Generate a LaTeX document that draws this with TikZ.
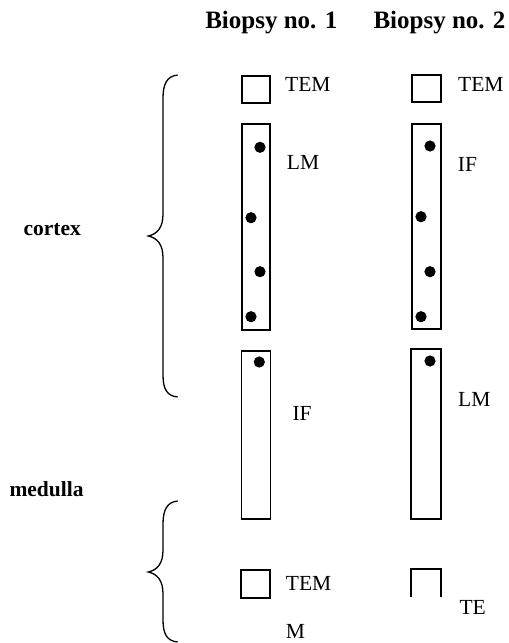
\documentclass[tikz,border=0pt]{standalone}
\usepackage{fontspec}
\setmainfont{Liberation Serif}
\begin{document}
\begin{tikzpicture}[x=1pt,y=-1pt,
  box/.style={draw,line width=1.5pt,inner sep=0pt,outer sep=0pt},
  lbl/.style={anchor=base west,inner sep=0pt,font=\fontsize{21.5}{24}\selectfont},
  side/.style={anchor=base west,inner sep=0pt,font=\fontsize{21.5}{24}\selectfont\bfseries},
  head/.style={anchor=base,inner sep=0pt,font=\fontsize{25}{28}\selectfont\bfseries},
  dot/.style={fill=black},
  brace/.style={line width=1.3pt}]
\useasboundingbox (0,0) rectangle (509,643);
% headings
\node[head] (h1) at (271.3,28.3) {Biopsy no. 1};
\node[head] (h2) at (439.5,28.3) {Biopsy no. 2};
\node[side] (cortex) at (23.3,235) {cortex};
\node[side] (medulla) at (9.3,496) {medulla};
% biopsy 1
\node[box,minimum width=28pt,minimum height=27pt] (sq1) at (256,89.5) {};
\node[box,minimum width=28pt,minimum height=206pt] (st1) at (256,227) {};
\node[box,minimum width=29pt,minimum height=168pt] (st2) at (255.8,435) {};
\node[box,minimum width=29pt,minimum height=28pt] (sq2) at (255.5,584) {};
\fill[dot] (260,147.3) circle (5.6pt) (251,217.7) circle (5.6pt) (260,271.7) circle (5.6pt) (251,316.7) circle (5.6pt) (259.3,362) circle (5.6pt);
\node[lbl] (t1) at (285,91.7) {TEM};
\node[lbl] (t2) at (286.7,169) {LM};
\node[lbl] (t3) at (292.3,420) {IF};
\node[lbl] (t4) at (285.7,590.7) {TEM};
\node[lbl] (t5) at (285.7,638) {M};
% biopsy 2
\node[box,minimum width=29pt,minimum height=27pt] (sq3) at (426.5,88.5) {};
\node[box,minimum width=29pt,minimum height=205pt] (st3) at (426.5,226.5) {};
\node[box,minimum width=30pt,minimum height=170pt] (st4) at (426,434) {};
\coordinate (sq4a) at (411,597);
\coordinate (sq4b) at (441,597);
\draw[line width=1.5pt] (sq4a) -- (411,569) -- (441,569) -- (sq4b);
\fill[dot] (430,146) circle (5.6pt) (421,216.7) circle (5.6pt) (430,271.7) circle (5.6pt) (421,316.7) circle (5.6pt) (430,361) circle (5.6pt);
\node[lbl] (u1) at (458,91.7) {TEM};
\node[lbl] (u2) at (457.7,171) {IF};
\node[lbl] (u3) at (458,406.7) {LM};
\node[lbl] (u4) at (459.3,614.3) {TE};
% braces
\draw[brace] (177.7,75) .. controls (167,76) and (163,84) .. (163,98) -- (163,214)
  .. controls (163,228) and (157,234) .. (148.3,236) .. controls (157,238) and (163,244) .. (163,258)
  -- (163,375) .. controls (163,389) and (167,396) .. (177.7,397);
\draw[brace] (177.7,501) .. controls (167,502) and (163,510) .. (163,524) -- (163,550)
  .. controls (163,564) and (157,570) .. (148.3,572) .. controls (157,574) and (163,580) .. (163,594)
  -- (163,620) .. controls (163,634) and (167,641) .. (177.7,642);
\end{tikzpicture}
\end{document}
